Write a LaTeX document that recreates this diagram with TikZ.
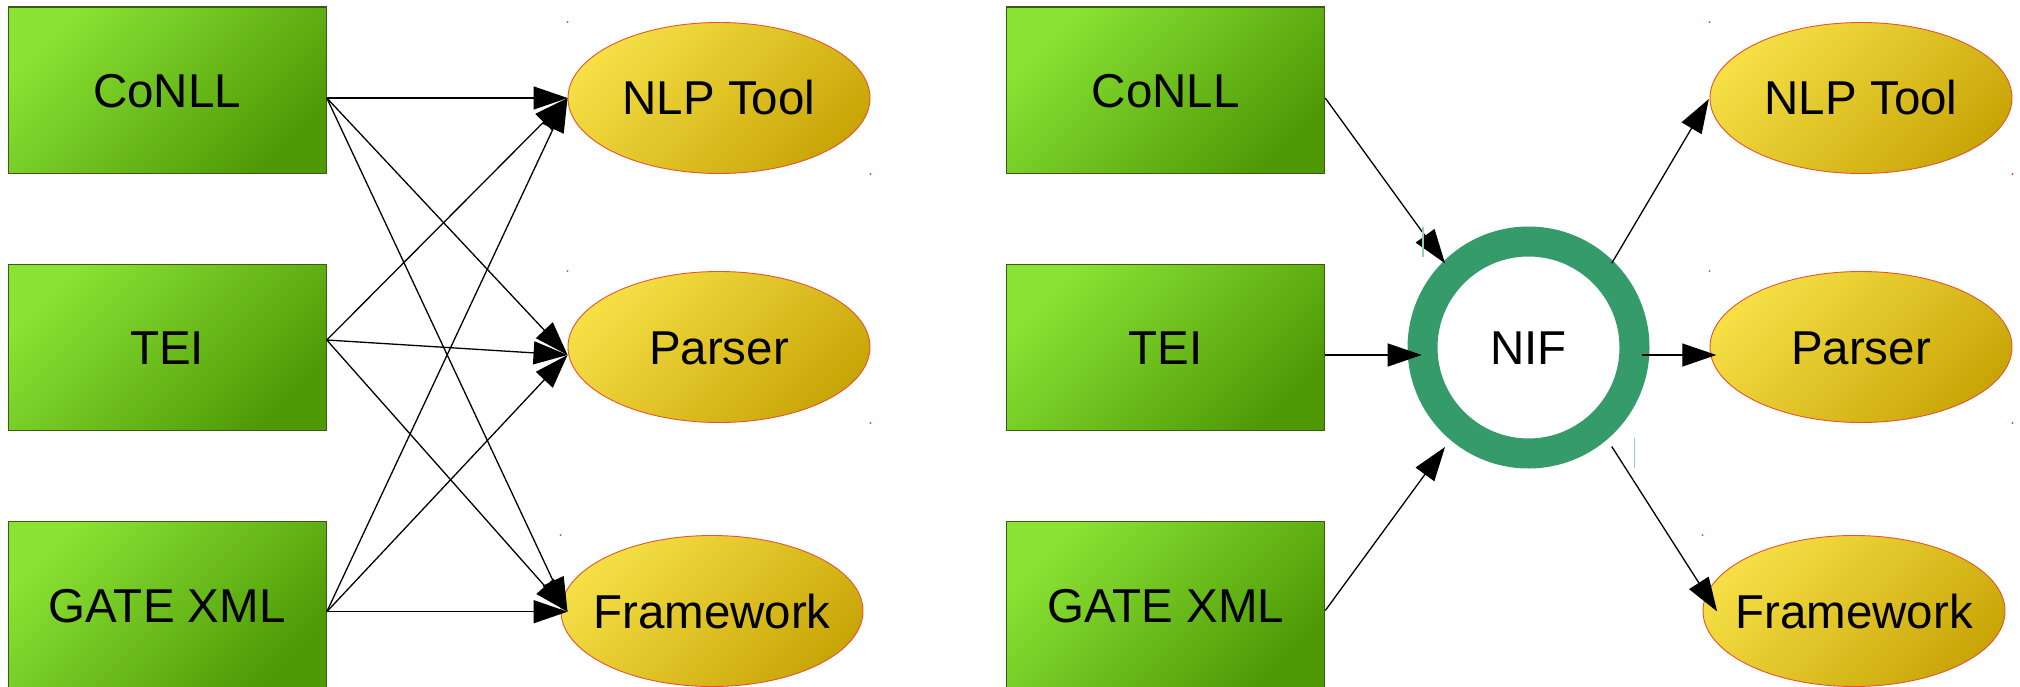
\documentclass[tikz,border=0pt]{standalone}
\usepackage{fontspec}
\setmainfont{Liberation Sans}
\usetikzlibrary{arrows.meta,calc,shapes.geometric}
\definecolor{boxlight}{HTML}{8AE234}
\definecolor{boxdark}{HTML}{4E9A06}
\definecolor{boxline}{HTML}{3B5A12}
\definecolor{elllight}{HTML}{F5DF45}
\definecolor{elldark}{HTML}{C9A608}
\definecolor{ellline}{HTML}{E8532A}
\definecolor{nifgreen}{HTML}{359B6A}
\begin{document}
\begin{tikzpicture}[x=1pt,y=-1pt,
  every node/.style={font=\fontsize{47.5}{57}\selectfont, text height=34pt, text depth=0pt, inner sep=0pt},
  fmtbox/.style={rectangle, draw=boxline, line width=1.2pt, minimum width=318pt, minimum height=166.5pt,
    top color=boxlight, bottom color=boxdark, shading angle=45},
  toolell/.style={ellipse, draw=ellline, line width=0.9pt, minimum width=302pt, minimum height=151pt,
    top color=elllight, bottom color=elldark, shading angle=45},
  hub/.style={circle, draw=nifgreen, line width=30pt, minimum size=212pt, fill=white, outer sep=0pt},
  conn/.style={draw=black, line width=1.3pt, -{Triangle[length=34pt,width=23pt]}},
  speck/.style={fill=ellline},
  ghostline/.style={draw=nifgreen!50, line width=1.5pt}]
\useasboundingbox (0,0) rectangle (2020,687);

% ---------- left half ----------
\node[fmtbox] (lc) at (167.2,90.3) {CoNLL};
\node[fmtbox] (lt) at (167.2,347.5) {TEI};
\node[fmtbox] (lg) at (167.2,605) {GATE XML};

\node[toolell] (ln) at (719,98) {\makebox[0pt]{NLP Tool}};
\node[toolell] (lp) at (719,347) {\makebox[0pt]{Parser}};
\node[toolell] (lf) at (712,611) {\makebox[0pt]{Framework}};

\coordinate (lcO) at ($(lc.east)+(0,7.7)$);
\coordinate (ltO) at ($(lt.east)+(0,-7.5)$);
\coordinate (lgO) at ($(lg.east)+(0,6.7)$);
\coordinate (lnI) at ($(ln.west)+(0,0)$);
\coordinate (lpI) at ($(lp.west)+(0,8)$);
\coordinate (lfI) at ($(lf.west)+(7,0.7)$);

\foreach \s in {lcO,ltO,lgO}
  \foreach \t in {lnI,lpI,lfI}
    \draw[conn] (\s) -- (\t);

% ---------- right half ----------
\node[fmtbox] (rc) at (1165.7,90.3) {CoNLL};
\node[fmtbox] (rt) at (1165.7,347.5) {TEI};
\node[fmtbox] (rg) at (1165.7,605) {GATE XML};

\node[hub] (nif) at (1528.5,347.5) {NIF};

\node[toolell] (rn) at (1861,98) {\makebox[0pt]{NLP Tool}};
\node[toolell] (rp) at (1861,347) {\makebox[0pt]{Parser}};
\node[toolell] (rf) at (1854,611) {\makebox[0pt]{Framework}};

\draw[conn] ($(rc.east)+(0,7.8)$) -- ($(nif.center)+(-83.5,-84.2)$);
\draw[conn] ($(rt.east)+(0,7.5)$) -- ($(nif.center)+(-106.8,7.5)$);
\draw[conn] ($(rg.east)+(0,5.5)$) -- ($(nif.center)+(-83.5,99.5)$);
\draw[conn] ($(nif.center)+(83.2,-84.2)$) -- ($(rn.west)+(-0.7,1)$);
\draw[conn] ($(nif.center)+(113.2,7.5)$) -- ($(rp.west)+(6.7,8)$);
\draw[conn] ($(nif.center)+(83.2,99)$) -- ($(rf.west)+(14.6,0.5)$);

% faint rendering marks near the ring
\draw[ghostline] (1423,227) -- (1423,257);
\draw[ghostline] (1634.5,438) -- (1634.5,468);

% tiny specks at the ellipse bounding-box corners
\foreach \e in {ln,lp,rn,rp} {
  \fill[speck] (\e.west |- \e.north) circle (1.1pt);
  \fill[speck] (\e.east |- \e.south) circle (1.1pt);
}
\fill[speck] (lf.west |- lf.north) circle (1.1pt);
\fill[speck] (rf.west |- rf.north) circle (1.1pt);
\end{tikzpicture}
\end{document}
